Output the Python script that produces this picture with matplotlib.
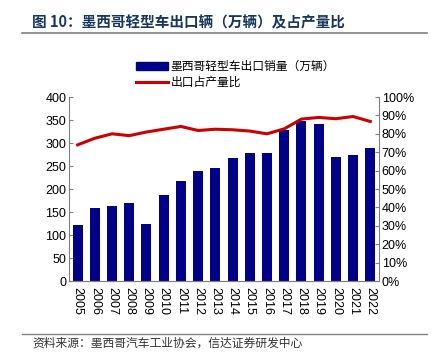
import matplotlib
matplotlib.use("Agg")
import matplotlib.pyplot as plt
from matplotlib.lines import Line2D
from matplotlib.patches import Patch
from matplotlib.ticker import FuncFormatter

plt.rcParams["font.family"] = ["Liberation Sans", "Noto Sans CJK SC", "DejaVu Sans"]

# ---------------------------------------------------------------------------
# Data
# ---------------------------------------------------------------------------
years = [str(y) for y in range(2005, 2023)]
exports = [121, 158, 164, 169, 125, 188, 217, 239, 245,
           267, 279, 279, 329, 348, 342, 270, 273, 289]       # 万辆
share = [74.0, 77.6, 80.0, 79.0, 81.0, 82.5, 84.0, 81.8, 82.5,
         82.2, 81.5, 80.0, 82.7, 88.0, 88.9, 88.2, 89.4, 86.7]  # %

title = "图 10：墨西哥轻型车出口辆（万辆）及占产量比"
bar_label = "墨西哥轻型车出口销量（万辆）"
line_label = "出口占产量比"
source = "资料来源：墨西哥汽车工业协会，信达证券研发中心"

BAR_COLOR = "#000088"
LINE_COLOR = "#CC0000"
CJK = ["Noto Sans CJK SC", "DejaVu Sans"]

fig = plt.figure(figsize=(4.34, 3.58), dpi=100)
ax = fig.add_axes([0.159, 0.215, 0.714, 0.514])
ax2 = ax.twinx()

x = range(len(years))
ax.bar(x, exports, width=0.58, color=BAR_COLOR, zorder=2)
ax2.plot(x, share, color=LINE_COLOR, lw=2.2, zorder=3)

ax.set_ylim(0, 400)
ax.set_yticks(range(0, 401, 50))
ax2.set_ylim(0, 100)
ax2.set_yticks(range(0, 101, 10))
ax2.yaxis.set_major_formatter(FuncFormatter(lambda v, _: f"{v:.0f}%"))
ax.set_xlim(-0.5, len(years) - 0.5)
ax.set_xticks(list(x))
ax.set_xticklabels(years, rotation=-90)

for a in (ax, ax2):
    for s in a.spines.values():
        s.set_color("#808080")
        s.set_linewidth(0.8)
    a.spines["top"].set_visible(False)
    a.tick_params(labelsize=9, colors="#808080", labelcolor="black",
                  direction="in", length=3, width=0.8, pad=2)
ax.spines["right"].set_visible(False)
ax2.spines["left"].set_visible(False)
ax.tick_params(axis="x", length=0, pad=4)

# Legend
handles = [Patch(facecolor=BAR_COLOR, edgecolor=BAR_COLOR),
           Line2D([0], [0], color=LINE_COLOR, lw=2.2)]
fig.legend(handles, [bar_label, line_label], loc="upper left",
           bbox_to_anchor=(0.295, 0.855), frameon=False,
           prop={"family": CJK, "size": 8.5}, handlelength=2.7,
           handleheight=0.6, labelspacing=0.25, handletextpad=0.2,
           borderpad=0.2)

# Title and source
fig.text(0.074, 0.938, title, fontsize=10.5, fontweight="bold",
         color="#17375E", family=CJK, va="center")
fig.add_artist(Line2D([0.05, 0.985], [0.907, 0.907], color="#808080",
                      lw=1.2, transform=fig.transFigure))
fig.add_artist(Line2D([0.05, 0.985], [0.068, 0.068], color="#808080",
                      lw=1.0, transform=fig.transFigure))
fig.text(0.074, 0.041, source, fontsize=8.5, style="italic",
         color="#333333", family=CJK, va="center")

fig.savefig("out.png", dpi=100)
